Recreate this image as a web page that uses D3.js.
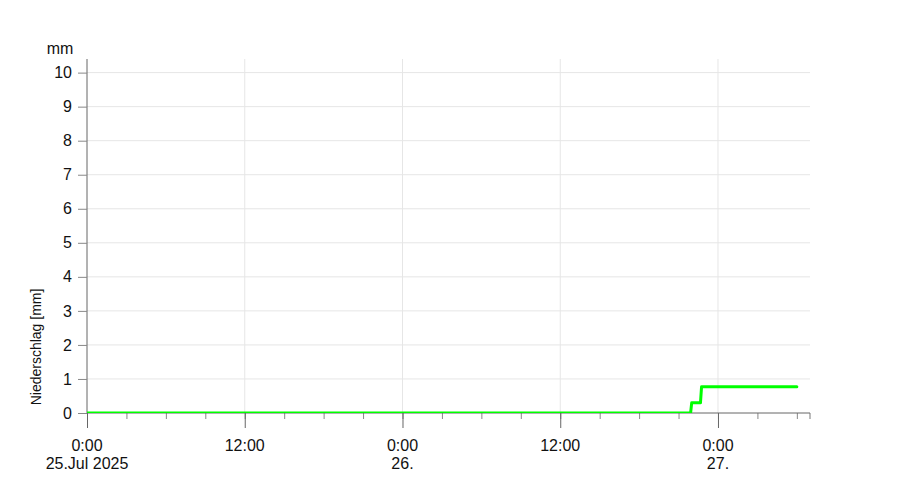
<!DOCTYPE html>
<html><head><meta charset="utf-8">
<script src="https://cdn.jsdelivr.net/npm/d3@7"></script>
<style>body{margin:0;background:#fff}svg{display:block;font-family:"Liberation Sans",Arial,sans-serif}</style>
</head><body><svg id="c" width="900" height="496"></svg>
<script>
const times = ["2025-07-25T00:00","2025-07-26T21:55","2025-07-26T22:00","2025-07-26T22:40","2025-07-26T22:45","2025-07-27T06:00"];
const values = [0,0,0.3,0.3,0.77,0.77];
const yTicks = [0,1,2,3,4,5,6,7,8,9,10];
const xMajor = ["2025-07-25T00:00","2025-07-25T12:00","2025-07-26T00:00","2025-07-26T12:00","2025-07-27T00:00"];
const xLabels1 = ["0:00","12:00","0:00","12:00","0:00"];
const xLabels2 = ["25.Jul 2025","","26.","","27."];
const yTitle = "Niederschlag [mm]";
const unit = "mm";

const parse = d3.timeParse("%Y-%m-%dT%H:%M");
const svg = d3.select("#c");
const L=87,R=810,T=59,B=413;
const x = d3.scaleTime().domain([parse("2025-07-25T00:00"),parse("2025-07-27T07:00")]).range([L,R]);
const y = d3.scaleLinear().domain([0,10.4]).range([B,T]);

// grid
svg.append("g").selectAll("line").data(yTicks.filter(d=>d>0)).join("line")
 .attr("x1",L).attr("x2",R).attr("y1",d=>y(d)).attr("y2",d=>y(d)).attr("stroke","#e6e6e6");
svg.append("g").selectAll("line").data(xMajor.slice(1)).join("line")
 .attr("x1",d=>x(parse(d))).attr("x2",d=>x(parse(d))).attr("y1",T).attr("y2",B).attr("stroke","#e6e6e6");

// y axis
const ya = svg.append("g").attr("transform",`translate(${L},0)`)
 .call(d3.axisLeft(y).tickValues(yTicks).tickSize(9).tickPadding(6).tickFormat(d3.format("d")));
ya.select(".domain").attr("d",`M0,${T}V${B}`).attr("stroke","#666");
ya.selectAll(".tick line").attr("stroke","#888");
ya.selectAll("text").attr("font-size",16).attr("fill","#111").attr("font-family","Liberation Sans, Arial, sans-serif");

// x axis minor
const minor = d3.timeHour.every(3).range(parse("2025-07-25T00:00"),parse("2025-07-27T07:00"));
const xa2 = svg.append("g").attr("transform",`translate(0,${B})`)
 .call(d3.axisBottom(x).tickValues(minor).tickSize(6).tickFormat(""));
xa2.select(".domain").remove();
xa2.selectAll(".tick line").attr("stroke","#888");
// right end tick
svg.append("line").attr("x1",R).attr("x2",R).attr("y1",B).attr("y2",B+6).attr("stroke","#bbb").attr("stroke-width",2);

const xa = svg.append("g").attr("transform",`translate(0,${B})`)
 .call(d3.axisBottom(x).tickValues(xMajor.map(parse)).tickSize(15).tickFormat(""));
xa.select(".domain").attr("d",`M${L},0H${R}`).attr("stroke","#666");
xa.selectAll(".tick line").attr("stroke","#666");
const lab = svg.append("g").attr("font-size",16).attr("fill","#111").attr("text-anchor","middle");
xMajor.forEach((d,i)=>{
  lab.append("text").attr("x",x(parse(d))).attr("y",451).text(xLabels1[i]);
  if(xLabels2[i]) lab.append("text").attr("x",x(parse(d))).attr("y",469).text(xLabels2[i]);
});

// titles
svg.append("text").attr("x",60).attr("y",54).attr("font-size",16).attr("fill","#111").attr("text-anchor","middle").text(unit);
svg.append("text").attr("transform",`translate(41,347) rotate(-90)`).attr("font-size",14).attr("fill","#111").attr("text-anchor","middle").text(yTitle);

// data line
svg.append("clipPath").attr("id","clip").append("rect").attr("x",L).attr("y",T-5).attr("width",R-L+5).attr("height",B-T+5);
svg.append("path").datum(times.map((t,i)=>({t:parse(t),v:values[i]})))
 .attr("clip-path","url(#clip)")
 .attr("fill","none").attr("stroke","#00ff00").attr("stroke-width",3).attr("stroke-linejoin","round").attr("stroke-linecap","round")
 .attr("d",d3.line().x(d=>x(d.t)).y(d=>y(d.v)));
</script></body></html>
